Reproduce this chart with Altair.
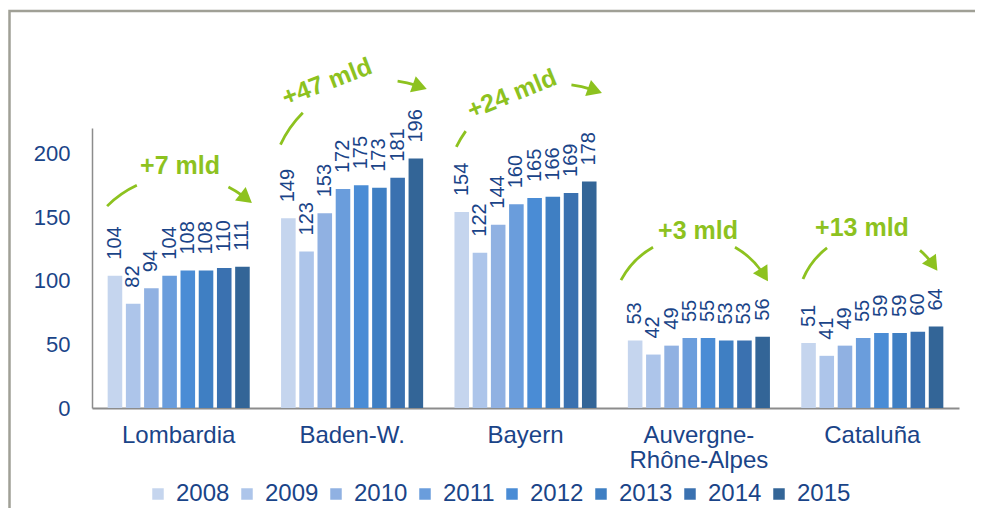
import math
import altair as alt
import pandas as pd

# ---------------- data ----------------
regions = ["Lombardia", "Baden-W.", "Bayern", "Auvergne-Rhône-Alpes", "Cataluña"]
years = ["2008", "2009", "2010", "2011", "2012", "2013", "2014", "2015"]
lombardia = [104, 82, 94, 104, 108, 108, 110, 111]
baden_w = [149, 123, 153, 172, 175, 173, 181, 196]
bayern = [154, 122, 144, 160, 165, 166, 169, 178]
auvergne = [53, 42, 49, 55, 55, 53, 53, 56]
cataluna = [51, 41, 49, 55, 59, 59, 60, 64]
growth_labels = ["+7 mld", "+47 mld", "+24 mld", "+3 mld", "+13 mld"]
y_ticks = [0, 50, 100, 150, 200]

# ---------------- style ----------------
year_colors = ["#c5d5ee", "#adc5ea", "#90b1e2", "#6a9ddc", "#4a8cd5",
               "#3f7fc3", "#3a71b0", "#336597"]
NAVY = "#1a4488"
GREEN = "#8dc21f"
AXIS_GREY = "#8c8c8c"
FRAME_GREY = "#a0a096"
FONT = "Liberation Sans"
W, H, YMAX = 867, 280, 220

series = [lombardia, baden_w, bayern, auvergne, cataluna]
rows = []
for reg, vals in zip(regions, series):
    for yr, v in zip(years, vals):
        rows.append({"region": reg, "year": yr, "value": v})
df = pd.DataFrame(rows)
group_max = {reg: max(vals) for reg, vals in zip(regions, series)}

y_enc = alt.Y("value:Q", scale=alt.Scale(domain=[0, YMAX], nice=False, zero=True),
              axis=alt.Axis(values=y_ticks, ticks=False, grid=False, title=None,
                            labelFontSize=22, labelColor=NAVY, labelPadding=22,
                            domainColor=AXIS_GREY, domainWidth=1.5, labelFont=FONT))
x_axis = alt.Axis(title=None, ticks=False, labelAngle=0, labelFontSize=24,
                  labelColor=NAVY, labelPadding=15, domainColor=AXIS_GREY,
                  domainWidth=2, labelFont=FONT, labelLimit=400, labelLineHeight=25,
                  labelExpr="datum.value == 'Auvergne-Rhône-Alpes' ? ['Auvergne-', 'Rhône-Alpes'] : datum.label")
x_enc = alt.X("region:N", sort=regions,
              scale=alt.Scale(paddingInner=0, paddingOuter=0), axis=x_axis)
xo_enc = alt.XOffset("year:N", sort=years,
                     scale=alt.Scale(paddingInner=0.2, paddingOuter=0.86))

# ------------- outer frame (only top and left edges fall inside the page) -------------
one = pd.DataFrame({"k": [0]})
frame = alt.Chart(one).mark_rect(filled=False, stroke=FRAME_GREY, strokeWidth=2.5).encode(
    x=alt.value(-82.5), x2=alt.value(W + 60), y=alt.value(-117), y2=alt.value(H + 200))

bars = alt.Chart(df).mark_bar().encode(
    x=x_enc, xOffset=xo_enc, y=y_enc,
    color=alt.Color("year:N", sort=years,
                    scale=alt.Scale(domain=years, range=year_colors),
                    title=None,
                    legend=alt.Legend(orient="none", legendX=54, legendY=354,
                                      direction="horizontal", columns=8,
                                      symbolType="square", symbolSize=132,
                                      symbolStrokeWidth=0, labelFontSize=24,
                                      labelColor=NAVY, labelFont=FONT,
                                      labelOffset=6, columnPadding=5, padding=0)),
)

labels = alt.Chart(df).mark_text(angle=270, align="left", baseline="middle",
                                 dx=16, fontSize=20, font=FONT, color=NAVY).encode(
    x=x_enc, xOffset=xo_enc, y=y_enc, text="value:Q")

# ------------- growth annotations (offsets in px from each group's top) -------------
# text dx, dy, tilt; arc centre dx, dy, radius; left arc segment; right segment start, arrow tip (deg)
ann_geom = [
    (1.3, -100.7, 0, 2.3, 13.3, 104.5, -45, -25, 27, 42.6),
    (-25.1, -76.5, -21, 29.9, 33.5, 112, -65, -45, 8, 23.5),
    (-13.5, -87.5, -22, 31.5, 14.5, 112, -64, -54.6, 7.4, 23.6),
    (-0.9, -105.7, 0, -4.9, -17.7, 82.7, -62, -29.7, 29.7, 63),
    (-10.3, -98.5, 0, -0.3, -18.9, 74.7, -67.5, -37, 40, 60.6),
]

x_ann = alt.X("region:N", sort=regions, bandPosition=0.5,
              scale=alt.Scale(paddingInner=0, paddingOuter=0), axis=x_axis)

def rad(d):
    return (d % 360) * math.pi / 180

layers = [frame, bars, labels]
TRI = 17.0
for reg, lab, g in zip(regions, growth_labels, ann_geom):
    tdx, tdy, tilt, cdx, cdy, R, l0, l1, r0, tip = g
    d = pd.DataFrame({"region": [reg], "value": [group_max[reg]]})
    base = alt.Chart(d)
    layers.append(base.mark_text(text=lab, font=FONT, fontSize=25, fontWeight="bold",
                                 color=GREEN, angle=tilt % 360, align="center",
                                 baseline="middle", xOffset=tdx, yOffset=tdy)
                  .encode(x=x_ann, y=y_enc))
    tri_h = 0.433 * TRI
    r_end = tip - math.degrees(1.5 * tri_h / R)
    for a0, a1 in [(l0, l1), (r0, r_end)]:
        s0, s1 = rad(a0), rad(a1)
        if s1 < s0:
            s1 += 2 * math.pi
        layers.append(base.mark_arc(color=GREEN, theta=s0, theta2=s1,
                                    radius=R + 1.4, radius2=R - 1.4,
                                    xOffset=cdx, yOffset=cdy)
                      .encode(x=x_ann, y=y_enc))
    tc = tip - math.degrees(tri_h / R)
    px = cdx + R * math.sin(math.radians(tc))
    py = cdy - R * math.cos(math.radians(tc))
    layers.append(base.mark_point(shape="triangle-up", filled=True, size=TRI * TRI,
                                  color=GREEN, opacity=1, strokeWidth=0,
                                  angle=(90 + tc) % 360, xOffset=px, yOffset=py)
                  .encode(x=x_ann, y=y_enc))

chart = alt.layer(*layers).properties(
    width=W, height=H,
    padding={"left": 84, "top": 120, "right": 16, "bottom": 100},
    autosize=alt.AutoSizeParams(type="none"),
).configure_view(stroke="transparent")

chart.save("out.html", embed_options={"renderer": "svg", "actions": False})
